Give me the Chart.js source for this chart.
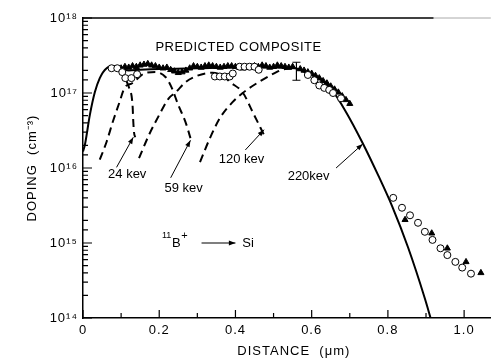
<!DOCTYPE html>
<html lang="en">
<head>
    <meta charset="UTF-8">
    <meta name="viewport" content="width=device-width, initial-scale=1.0">
    <script src="https://cdn.jsdelivr.net/npm/chart.js@4.4.0/dist/chart.umd.min.js"></script>
    <title>Boron doping profile</title>
    <style>
        body { margin: 0; background: #fff; }
    </style>
</head>
<body>
    <canvas id="chart" width="496" height="364"></canvas>

    <script>
        // distance in um, doping in cm^-3

        // predicted composite (solid line)
        const compositeX = [0, 0.005, 0.018, 0.031, 0.044, 0.062, 0.083, 0.1, 0.12, 0.15, 0.2, 0.3, 0.4, 0.5, 0.556, 0.59, 0.62, 0.65, 0.69, 0.733, 0.775, 0.811, 0.853, 0.897, 0.912];
        const compositeY = [1.66e16, 2.04e16, 5.1e16, 1.02e17, 1.58e17, 2.14e17, 2.29e17, 2.09e17, 2.0e17, 2.04e17, 2.09e17, 2.14e17, 2.19e17, 2.19e17, 2.14e17, 1.82e17, 1.55e17, 1.15e17, 5.6e16, 2.19e16, 7.9e15, 3.1e15, 8.7e14, 1.82e14, 1.0e14];

        // single implants (dashed)
        const kev24X = [0.1, 0.113, 0.121, 0.13, 0.132, 0.134, 0.137];
        const kev24Y = [2.09e17, 1.48e17, 1.17e17, 6.9e16, 4.1e16, 2.95e16, 2.57e16];
        const kev59X = [0.044, 0.062, 0.078, 0.096, 0.109, 0.129, 0.165, 0.19, 0.217, 0.233, 0.25, 0.269, 0.282];
        const kev59Y = [1.29e16, 2.24e16, 4.1e16, 7.6e16, 1.17e17, 1.35e17, 1.86e17, 1.9e17, 1.62e17, 1.17e17, 6.9e16, 4.1e16, 2.5e16];
        const kev120X = [0.147, 0.173, 0.2, 0.225, 0.243, 0.27, 0.3, 0.34, 0.37, 0.385, 0.42, 0.445, 0.465, 0.477];
        const kev120Y = [1.35e16, 2.75e16, 5.1e16, 8.5e16, 1.02e17, 1.41e17, 1.7e17, 1.86e17, 1.66e17, 1.41e17, 1.0e17, 5.6e16, 3.5e16, 2.63e16];
        const kev220X = [0.307, 0.333, 0.36, 0.393, 0.419, 0.462, 0.504, 0.522, 0.56];
        const kev220Y = [1.2e16, 2.5e16, 4.7e16, 7.6e16, 1.0e17, 1.41e17, 1.86e17, 2.04e17, 2.14e17];

        // measured, filled triangles
        const triX = [0.10, 0.11, 0.12, 0.13, 0.14, 0.15, 0.16, 0.17, 0.18, 0.19, 0.20, 0.21, 0.22, 0.23, 0.24, 0.25, 0.26, 0.27, 0.28, 0.29,
                      0.30, 0.31, 0.32, 0.33, 0.34, 0.35, 0.36, 0.37, 0.38, 0.39, 0.40, 0.41, 0.42, 0.43, 0.44, 0.45, 0.46, 0.47, 0.48, 0.49,
                      0.50, 0.51, 0.52, 0.53, 0.54, 0.55, 0.57, 0.58, 0.59, 0.60, 0.61, 0.62, 0.63, 0.64, 0.65, 0.66, 0.67, 0.68, 0.69, 0.70,
                      0.845, 0.915, 0.956, 1.005, 1.044];
        const triY = [2.14e17, 2.24e17, 2.19e17, 2.29e17, 2.24e17, 2.34e17, 2.4e17, 2.45e17, 2.34e17, 2.29e17, 2.19e17, 2.14e17, 2.19e17, 2.04e17, 1.95e17, 1.86e17, 1.9e17, 2.0e17, 2.14e17, 2.29e17,
                      2.24e17, 2.19e17, 2.29e17, 2.34e17, 2.29e17, 2.24e17, 2.19e17, 2.24e17, 2.29e17, 2.29e17, 2.24e17, 2.19e17, 2.14e17, 2.19e17, 2.24e17, 2.29e17, 2.24e17, 2.34e17, 2.29e17, 2.19e17,
                      2.24e17, 2.34e17, 2.29e17, 2.24e17, 2.19e17, 2.24e17, 2.09e17, 2.0e17, 1.9e17, 1.82e17, 1.7e17, 1.58e17, 1.45e17, 1.35e17, 1.23e17, 1.12e17, 1.02e17, 9.1e16, 8.1e16, 7.2e16,
                      2.04e15, 1.35e15, 8.5e14, 5.6e14, 4.0e14];

        // measured, open circles
        const circX = [0.075, 0.09, 0.103, 0.111, 0.127, 0.142,
                       0.346, 0.359, 0.372, 0.385, 0.393, 0.411, 0.424, 0.437, 0.45, 0.461,
                       0.59, 0.607, 0.62, 0.633, 0.646, 0.656, 0.677,
                       0.814, 0.837, 0.858, 0.879, 0.897, 0.917, 0.938, 0.956, 0.977, 0.995, 1.018];
        const circY = [2.14e17, 2.14e17, 1.9e17, 1.58e17, 1.58e17, 1.78e17,
                       1.66e17, 1.66e17, 1.66e17, 1.66e17, 1.82e17, 2.24e17, 2.24e17, 2.24e17, 2.24e17, 2.04e17,
                       1.74e17, 1.48e17, 1.26e17, 1.17e17, 1.1e17, 1.0e17, 8.5e16,
                       4.0e15, 2.95e15, 2.34e15, 1.86e15, 1.41e15, 1.1e15, 8.5e14, 6.9e14, 5.6e14, 4.7e14, 3.9e14];

        // error bar
        const errX = [0.56, 0.56];
        const errY = [2.57e17, 1.48e17];

        const xTicks = [0, 0.1, 0.2, 0.3, 0.4, 0.5, 0.6, 0.7, 0.8, 0.9, 1.0];
        const xLabels = ['0', '', '0.2', '', '0.4', '', '0.6', '', '0.8', '', '1.0'];
        const yDecades = [1e14, 1e15, 1e16, 1e17, 1e18];
        const yLabels = ['10\u00b9\u2074', '10\u00b9\u2075', '10\u00b9\u2076', '10\u00b9\u2077', '10\u00b9\u2078'];
        const energyLabels = ['24 kev', '59 kev', '120 kev', '220kev'];

        const pts = (xs, ys) => xs.map((x, i) => ({ x: x, y: ys[i] }));
        const FONT = '"Liberation Sans", Arial, sans-serif';

        function arrow(ctx, x1, y1, x2, y2) {
            const a = Math.atan2(y2 - y1, x2 - x1);
            ctx.beginPath();
            ctx.moveTo(x1, y1);
            ctx.lineTo(x2, y2);
            ctx.stroke();
            ctx.beginPath();
            ctx.moveTo(x2, y2);
            ctx.lineTo(x2 - 7 * Math.cos(a - 0.35), y2 - 7 * Math.sin(a - 0.35));
            ctx.lineTo(x2 - 7 * Math.cos(a + 0.35), y2 - 7 * Math.sin(a + 0.35));
            ctx.closePath();
            ctx.fill();
        }

        // tick marks pointing into the plot, plus the top frame line
        const innerTicks = {
            id: 'innerTicks',
            beforeDraw(chart) {
                chart.ctx.letterSpacing = '1px';
            },
            afterDraw(chart) {
                const { ctx, chartArea: area, scales: { x, y } } = chart;
                ctx.save();
                ctx.strokeStyle = '#000';
                ctx.lineWidth = 1.2;
                ctx.beginPath();
                x.ticks.forEach((t, i) => {
                    const p = x.getPixelForValue(t.value);
                    const len = i % 2 === 0 ? 8 : 5;
                    ctx.moveTo(p, area.bottom);
                    ctx.lineTo(p, area.bottom - len);
                });
                y.ticks.forEach(t => {
                    const p = y.getPixelForValue(t.value);
                    const len = yDecades.includes(t.value) ? 9 : 5;
                    ctx.moveTo(area.left, p);
                    ctx.lineTo(area.left + len, p);
                });
                ctx.stroke();
                ctx.lineWidth = 1.5;
                ctx.beginPath();
                ctx.moveTo(area.left, area.top);
                ctx.lineTo(x.getPixelForValue(0.92), area.top);
                ctx.stroke();
                ctx.strokeStyle = '#aaa';
                ctx.lineWidth = 1;
                ctx.beginPath();
                ctx.moveTo(x.getPixelForValue(0.92), area.top);
                ctx.lineTo(area.right, area.top);
                ctx.stroke();
                ctx.restore();
            }
        };

        // title, energy labels, arrows
        const notes = {
            id: 'notes',
            afterDatasetsDraw(chart) {
                const { ctx, scales: { x, y } } = chart;
                const px = v => x.getPixelForValue(v);
                const py = v => y.getPixelForValue(v);
                ctx.save();
                ctx.fillStyle = '#000';
                ctx.strokeStyle = '#000';
                ctx.textAlign = 'center';
                ctx.textBaseline = 'middle';
                ctx.letterSpacing = '0.5px';
                ctx.font = '13px ' + FONT;
                ctx.fillText('PREDICTED COMPOSITE', px(0.408), py(4.1e17));

                ctx.letterSpacing = '0px';
                ctx.fillText(energyLabels[0], px(0.116), py(8.1e15));
                ctx.fillText(energyLabels[1], px(0.264), py(5.4e15));
                ctx.fillText(energyLabels[2], px(0.416), py(1.32e16));
                ctx.fillText(energyLabels[3], px(0.592), py(7.8e15));

                ctx.lineWidth = 1;
                arrow(ctx, px(0.088), py(1.02e16), px(0.132), py(2.57e16));
                arrow(ctx, px(0.23), py(7.4e15), px(0.282), py(2.34e16));
                arrow(ctx, px(0.426), py(1.74e16), px(0.475), py(3.24e16));
                arrow(ctx, px(0.664), py(1.0e16), px(0.734), py(2.09e16));

                // 11B+ -> Si
                const bx = px(0.245), by = py(1.0e15);
                ctx.fillText('B', bx, by);
                ctx.font = '9px ' + FONT;
                ctx.textAlign = 'right';
                ctx.fillText('11', bx - 5, by - 7);
                ctx.font = '11px ' + FONT;
                ctx.textAlign = 'left';
                ctx.fillText('+', bx + 5, by - 7);
                ctx.lineWidth = 1.2;
                arrow(ctx, px(0.311), by, px(0.40), by);
                ctx.font = '13px ' + FONT;
                ctx.fillText('Si', px(0.418), by);
                ctx.restore();
            }
        };

        const line = (data, dash, width) => ({
            data: data,
            showLine: true,
            borderColor: '#000',
            borderWidth: width,
            borderDash: dash,
            pointRadius: 0,
            cubicInterpolationMode: 'monotone',
            fill: false
        });

        new Chart(document.getElementById('chart'), {
            type: 'scatter',
            data: {
                datasets: [
                    {
                        data: pts(circX, circY),
                        pointStyle: 'circle',
                        pointRadius: 3.5,
                        pointBackgroundColor: '#fff',
                        pointBorderColor: '#000',
                        pointBorderWidth: 1
                    },
                    {
                        data: pts(triX, triY),
                        pointStyle: 'triangle',
                        pointRadius: 3.5,
                        pointBackgroundColor: '#000',
                        pointBorderColor: '#000',
                        pointBorderWidth: 1
                    },
                    {
                        data: pts(errX, errY),
                        showLine: true,
                        borderColor: '#000',
                        borderWidth: 1.2,
                        pointStyle: 'line',
                        pointRadius: 4,
                        pointBorderColor: '#000',
                        pointBorderWidth: 1.2
                    },
                    line(pts(compositeX, compositeY), [], 2),
                    line(pts(kev24X, kev24Y), [8, 5], 2),
                    line(pts(kev59X, kev59Y), [8, 5], 2),
                    line(pts(kev120X, kev120Y), [8, 5], 2),
                    line(pts(kev220X, kev220Y), [8, 5], 2)
                ]
            },
            options: {
                responsive: false,
                animation: false,
                layout: { padding: { top: 18, right: 0, bottom: 0, left: 0 } },
                plugins: {
                    legend: { display: false },
                    tooltip: { enabled: false }
                },
                scales: {
                    x: {
                        type: 'linear',
                        min: 0,
                        max: 1.07,
                        afterBuildTicks: s => { s.ticks = xTicks.map(v => ({ value: v })); },
                        afterFit: s => { s.height = 46; },
                        grid: { display: false, drawTicks: false },
                        border: { display: true, color: '#000', width: 1.5 },
                        ticks: {
                            autoSkip: false,
                            maxRotation: 0,
                            padding: 5,
                            color: '#000',
                            font: { family: FONT, size: 13 },
                            callback: (v, i) => xLabels[i]
                        },
                        title: {
                            display: true,
                            text: '   DISTANCE  (\u03bcm)',
                            color: '#000',
                            font: { family: FONT, size: 13 },
                            padding: { top: 0, bottom: 5 }
                        }
                    },
                    y: {
                        type: 'logarithmic',
                        min: 1e14,
                        max: 1e18,
                        afterFit: s => { s.width = 83; },
                        grid: { display: false, drawTicks: false },
                        border: { display: true, color: '#000', width: 1.5 },
                        ticks: {
                            autoSkip: false,
                            padding: 5,
                            color: '#000',
                            font: { family: FONT, size: 13 },
                            callback: v => {
                                const i = yDecades.indexOf(v);
                                return i >= 0 ? yLabels[i] : '';
                            }
                        },
                        title: {
                            display: true,
                            text: 'DOPING  (cm\u207b\u00b3)',
                            color: '#000',
                            font: { family: FONT, size: 13 },
                            padding: { top: 25, bottom: 0 }
                        }
                    }
                }
            },
            plugins: [innerTicks, notes]
        });
    </script>
</body>
</html>
